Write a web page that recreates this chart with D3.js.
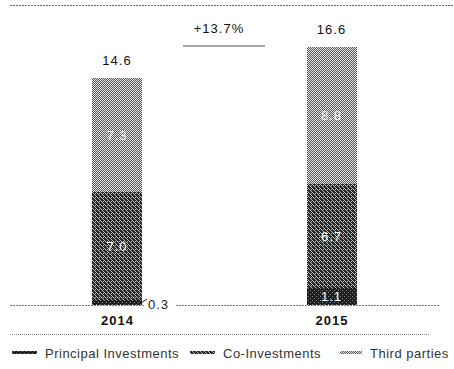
<!DOCTYPE html>
<html>
<head>
<meta charset="utf-8">
<script src="https://cdn.jsdelivr.net/npm/d3@7"></script>
<style>
  html, body { margin: 0; padding: 0; background: #fff; }
  svg { display: block; font-family: "Liberation Sans", Arial, sans-serif; }
</style>
</head>
<body>
<svg id="chart" width="454" height="369"></svg>
<script>
// Assets under management by investor type (bn)
const years = ["2014", "2015"];
const series = ["Principal Investments", "Co-Investments", "Third parties"];
const principal = [0.3, 1.1];
const coInvest = [7.0, 6.7];
const thirdParties = [7.3, 8.8];
const totals = [14.6, 16.6];
const growthLabel = "+13.7%";

const svg = d3.select("#chart");
const defs = svg.append("defs");

// Dithered-looking fills built from tiny pixel tiles
function tile(id, bg, fg, cells) {
  const p = defs.append("pattern").attr("id", id)
    .attr("patternUnits", "userSpaceOnUse").attr("width", 4).attr("height", 4);
  p.append("rect").attr("width", 4).attr("height", 4).attr("fill", bg);
  cells.forEach(([x, y]) => p.append("rect").attr("x", x).attr("y", y)
    .attr("width", 1).attr("height", 1).attr("fill", fg));
}
tile("pat-principal", "#1e1e1e", "#8a8a8a", [[0, 0], [2, 2]]);
tile("pat-co", "#2a2a2a", "#b8b8b8", [[0, 0], [1, 1], [2, 2], [3, 3], [3, 1]]);
tile("pat-third", "#555", "#e6e6e6", [[0, 0], [2, 0], [1, 1], [3, 1], [0, 2], [2, 2], [1, 3], [3, 3]]);
const fills = ["url(#pat-principal)", "url(#pat-co)", "url(#pat-third)"];

const baseY = 305;
const y = d3.scaleLinear().domain([0, 16.6]).range([baseY, 47]);
const x = d3.scalePoint().domain(years).range([117, 331.5]);
const barW = 50;

// Stack the three series per year
const rows = years.map((yr, i) => ({ year: yr, p: principal[i], c: coInvest[i], t: thirdParties[i] }));
const stack = d3.stack().keys(["p", "c", "t"])(rows);

// Top rule
svg.append("line").attr("x1", 10).attr("x2", 454).attr("y1", 5.5).attr("y2", 5.5)
  .attr("stroke", "#666").attr("stroke-width", 1).attr("stroke-dasharray", "2,1");

// Bars
stack.forEach((layer, k) => {
  svg.append("g").selectAll("rect").data(layer).join("rect")
    .attr("x", d => x(d.data.year) - barW / 2)
    .attr("width", barW)
    .attr("y", d => y(d[1]))
    .attr("height", d => y(d[0]) - y(d[1]))
    .attr("fill", fills[k])
    .attr("shape-rendering", "crispEdges");
});

// Baseline, broken around the small 2014 label
const smallLabelX = x("2014") + barW / 2 + 6;
svg.append("line").attr("x1", 10).attr("x2", smallLabelX - 4).attr("y1", baseY + 0.5).attr("y2", baseY + 0.5)
  .attr("stroke", "#777").attr("stroke-dasharray", "2,1");
svg.append("line").attr("x1", smallLabelX + 28).attr("x2", 440).attr("y1", baseY + 0.5).attr("y2", baseY + 0.5)
  .attr("stroke", "#777").attr("stroke-dasharray", "2,1");

// Leader for the 0.3 segment
svg.append("line")
  .attr("x1", x("2014") + barW / 2).attr("y1", y(principal[0]) + 2)
  .attr("x2", smallLabelX - 1).attr("y2", baseY - 6)
  .attr("stroke", "#222").attr("stroke-width", 1);
svg.append("text").attr("x", smallLabelX).attr("y", baseY + 4)
  .attr("font-size", 13).attr("letter-spacing", 1).attr("fill", "#222")
  .text(principal[0].toFixed(1));

// Values inside segments
const inside = [];
rows.forEach((r, i) => {
  if (r.p >= 1) inside.push({ x: x(r.year), y: (y(0) + y(r.p)) / 2, v: r.p });
  inside.push({ x: x(r.year), y: (y(r.p) + y(r.p + r.c)) / 2, v: r.c });
  inside.push({ x: x(r.year), y: (y(r.p + r.c) + y(totals[i])) / 2, v: r.t });
});
svg.append("g").selectAll("text").data(inside).join("text")
  .attr("x", d => d.x).attr("y", d => d.y + 5)
  .attr("text-anchor", "middle").attr("font-size", 13).attr("letter-spacing", 1)
  .attr("fill", "#fff").text(d => d.v.toFixed(1));

// Totals above bars
svg.append("g").selectAll("text").data(years).join("text")
  .attr("x", d => x(d)).attr("y", (d, i) => y(totals[i]) - 13)
  .attr("text-anchor", "middle").attr("font-size", 13).attr("letter-spacing", 1)
  .attr("fill", "#111").text((d, i) => totals[i].toFixed(1));

// Growth annotation
svg.append("text").attr("x", 219).attr("y", 33).attr("text-anchor", "middle")
  .attr("font-size", 13).attr("letter-spacing", 1).attr("fill", "#111").text(growthLabel);
svg.append("line").attr("x1", 183).attr("x2", 265).attr("y1", 46).attr("y2", 46)
  .attr("stroke", "#888").attr("stroke-width", 1.5);

// Category axis labels
const xAxis = d3.axisBottom(x).tickSize(0).tickPadding(0);
const gx = svg.append("g").attr("transform", `translate(0,${baseY + 8})`).call(xAxis);
gx.select(".domain").remove();
gx.selectAll("text").attr("font-size", 13).attr("font-weight", "bold")
  .attr("letter-spacing", 1).attr("fill", "#111").attr("dy", "0.9em")
  .style("font-family", "'Liberation Sans', Arial, sans-serif");

// Rule above the legend
svg.append("line").attr("x1", 10).attr("x2", 430).attr("y1", 334.5).attr("y2", 334.5)
  .attr("stroke", "#888").attr("stroke-dasharray", "1,1");

// Legend
const legendX = [12, 190, 340];
const swatchW = [25, 25, 22];
const lg = svg.append("g").selectAll("g").data(series).join("g")
  .attr("transform", (d, i) => `translate(${legendX[i]},353)`);
lg.append("rect").attr("x", 0).attr("y", -2).attr("width", (d, i) => swatchW[i]).attr("height", 3)
  .attr("fill", (d, i) => fills[i]).attr("shape-rendering", "crispEdges");
lg.append("text").attr("x", (d, i) => swatchW[i] + 8).attr("y", 5)
  .attr("font-size", 13).attr("letter-spacing", 0.5).attr("fill", "#333").text(d => d);
</script>
</body>
</html>
